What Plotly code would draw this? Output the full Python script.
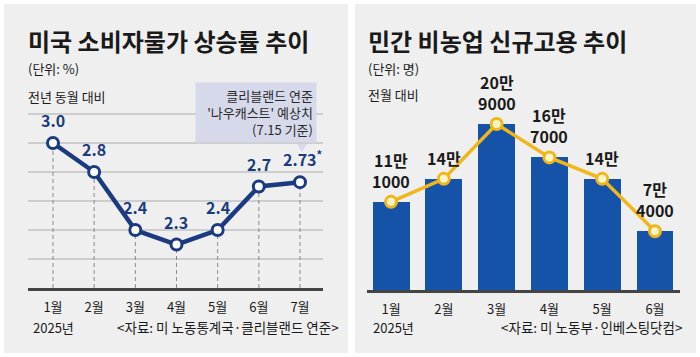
import plotly.graph_objects as go

W, H = 700, 357
FONT = "Noto Sans CJK KR"

# ---- data ----
cpi_months = ["1월", "2월", "3월", "4월", "5월", "6월", "7월"]
cpi_values = [3.0, 2.8, 2.4, 2.3, 2.4, 2.7, 2.73]
cpi_labels = ["3.0", "2.8", "2.4", "2.3", "2.4", "2.7", "2.73<sup>*</sup>"]

job_months = ["1월", "2월", "3월", "4월", "5월", "6월"]
job_values = [111000, 140000, 209000, 167000, 140000, 74000]
job_labels = ["11만<br>1000", "14만", "20만<br>9000", "16만<br>7000", "14만", "7만<br>4000"]

NAVY = "#1b3a80"
BAR = "#1453a8"
GOLD = "#f0b61a"
GRID = "#cdcdcd"
AXIS = "#444444"
TXT = "#1a1a1a"


def px(x):
    return x / W


def py(y):
    return 1 - y / H


fig = go.Figure()

# left: CPI line chart
cx = list(range(len(cpi_months)))
drop_x, drop_y = [], []
for i, v in zip(cx, cpi_values):
    drop_x += [i, i, None]
    drop_y += [2.0, v, None]
fig.add_trace(go.Scatter(x=drop_x, y=drop_y, mode="lines",
                         line=dict(color="#8a8a8a", width=1, dash="4px,3px"),
                         xaxis="x", yaxis="y", hoverinfo="skip", showlegend=False))
fig.add_trace(go.Scatter(x=cx, y=cpi_values, mode="lines+markers",
                         line=dict(color=NAVY, width=4.5),
                         marker=dict(size=11, color="white", line=dict(color=NAVY, width=3)),
                         xaxis="x", yaxis="y", showlegend=False))

# right: jobs bar + line
jx = list(range(len(job_months)))
fig.add_trace(go.Bar(x=jx, y=job_values, width=0.7, marker=dict(color=BAR, line=dict(width=0)),
                     xaxis="x2", yaxis="y2", showlegend=False))
fig.add_trace(go.Scatter(x=jx, y=job_values, mode="lines+markers",
                         line=dict(color=GOLD, width=3.5),
                         marker=dict(size=11, color="#fff6c8", line=dict(color=GOLD, width=3)),
                         xaxis="x2", yaxis="y2", showlegend=False))

tickfont = dict(family=FONT, size=13, color=TXT)
fig.update_layout(
    width=W, height=H,
    margin=dict(l=0, r=0, t=0, b=0),
    paper_bgcolor="white",
    plot_bgcolor="rgba(0,0,0,0)",
    bargap=0,
    xaxis=dict(domain=[px(28), px(323)], range=[-0.607, 6.559],
               tickvals=cx, ticktext=cpi_months, tickfont=tickfont,
               showgrid=False, zeroline=False, showline=True, linecolor=AXIS, linewidth=2.5,
               ticks="", ticklabelstandoff=6, fixedrange=True),
    yaxis=dict(domain=[py(288), py(100)], range=[2.0, 3.2966],
               tickvals=[2.2, 2.4, 2.6, 2.8, 3.0, 3.2], showticklabels=False,
               showgrid=True, gridcolor=GRID, gridwidth=1.5, zeroline=False, fixedrange=True),
    xaxis2=dict(domain=[px(367), px(680)], range=[-0.455, 5.474],
                tickvals=jx, ticktext=job_months, tickfont=tickfont,
                showgrid=False, zeroline=False, showline=True, linecolor=AXIS, linewidth=2.5,
                ticks="", ticklabelstandoff=6, fixedrange=True),
    yaxis2=dict(domain=[py(290), py(100)], range=[0, 239300], anchor="x2",
                showticklabels=False, showgrid=False, zeroline=False, fixedrange=True),
)
fig.layout.yaxis.anchor = "x"
fig.layout.xaxis2.anchor = "y2"

shapes = [
    dict(type="rect", xref="paper", yref="paper", x0=px(4), x1=px(348), y0=py(353), y1=py(4),
         fillcolor="#efefef", line=dict(width=0), layer="below"),
    dict(type="rect", xref="paper", yref="paper", x0=px(355), x1=px(696), y0=py(353), y1=py(4),
         fillcolor="#efefef", line=dict(width=0), layer="below"),
    # callout box pointer
    dict(type="path", xref="paper", yref="paper",
         path=f"M {px(296)} {py(142)} L {px(308)} {py(142)} L {px(302)} {py(152)} Z",
         fillcolor="#d6d9ea", line=dict(width=0), layer="below"),
]
fig.update_layout(shapes=shapes)

ann = []


def text(x, y, s, size=13, weight="normal", xanchor="left", color=TXT, yanchor="middle"):
    ann.append(dict(xref="paper", yref="paper", x=px(x), y=py(y), text=s, showarrow=False,
                    xanchor=xanchor, yanchor=yanchor,
                    font=dict(family=FONT, size=size, color=color, weight=weight)))


# titles
text(26, 40, "미국 소비자물가 상승률 추이", size=24, weight="bold")
text(26, 68, "(단위: %)", size=13)
text(26, 97, "전년 동월 대비", size=13)
text(366, 40, "민간 비농업 신규고용 추이", size=24, weight="bold")
text(366, 68, "(단위: 명)", size=13)
text(366, 95, "전월 대비", size=13)
text(53, 327, "2025년", size=13, xanchor="center")
text(393, 327, "2025년", size=13, xanchor="center")
text(341, 327, "<자료: 미 노동통계국·클리블랜드 연준>", size=13.5, xanchor="right")
text(684, 327, "<자료: 미 노동부·인베스팅닷컴>", size=13.5, xanchor="right")

# callout box
ann.append(dict(xref="paper", yref="paper", x=px(317), y=py(82), xanchor="right", yanchor="top",
                text="클리블랜드 연준<br>'나우캐스트' 예상치<br>(7.15 기준)", align="right",
                showarrow=False, bgcolor="#d6d9ea", borderpad=3, width=114,
                font=dict(family=FONT, size=13, color="#2a2a2a")))

# value labels (left)
for i, v, s in zip(cx, cpi_values, cpi_labels):
    ann.append(dict(xref="x", yref="y", x=i, y=v, text=s, showarrow=False,
                    yanchor="bottom", yshift=9, xshift=3 if i == 6 else 0,
                    font=dict(family=FONT, size=16, color=NAVY, weight="bold")))
# value labels (right)
for i, v, s in zip(jx, job_values, job_labels):
    ann.append(dict(xref="x2", yref="y2", x=i, y=v, text=s, showarrow=False,
                    yanchor="bottom", yshift=7,
                    font=dict(family=FONT, size=16, color=TXT, weight="bold")))

fig.update_layout(annotations=ann)
fig.write_html("out.html", config={"displayModeBar": False},
               post_script="document.body.style.margin='0';document.body.style.overflow='hidden';")
